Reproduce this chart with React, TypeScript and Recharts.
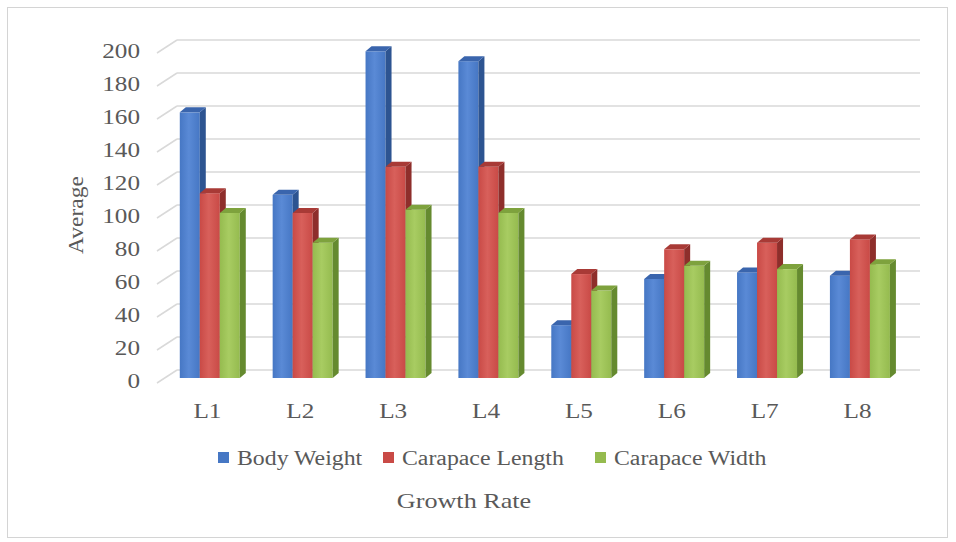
import React from "react";
import { BarChart, Bar, XAxis, YAxis, CartesianGrid } from "recharts";

// Growth rate averages per line
const categories = ["L1", "L2", "L3", "L4", "L5", "L6", "L7", "L8"];
const bodyWeight = [161, 111, 198, 192, 32, 60, 64, 62];
const carapaceLength = [112, 100, 128, 128, 63, 78, 82, 84];
const carapaceWidth = [100, 82, 102, 100, 53, 68, 66, 69];
const yTicks = [0, 20, 40, 60, 80, 100, 120, 140, 160, 180, 200];

const data = categories.map((name, i) => ({
  name,
  bodyWeight: bodyWeight[i],
  carapaceLength: carapaceLength[i],
  carapaceWidth: carapaceWidth[i],
}));

const series = [
  { key: "bodyWeight", name: "Body Weight", front: "#4677c4", light: "#5a8ad6", side: "#2d5491", top: "#3a65ad" },
  { key: "carapaceLength", name: "Carapace Length", front: "#c94a46", light: "#d8605b", side: "#8e2e2b", top: "#a83a36" },
  { key: "carapaceWidth", name: "Carapace Width", front: "#95bb4f", light: "#a8cc62", side: "#658a2f", top: "#7ea23d" },
];

const TEXT = "#595959";
const FONT = "'Liberation Serif', 'Times New Roman', serif";
const GRID = "#d9d9d9";

// depth of the bars and of the back wall
const BAR_DX = 6;
const BAR_DY = 5;
const WALL_X0 = 157;
const WALL_X1 = 177;
const WALL_RIGHT = 920;

const Bar3D = (props: any) => {
  const { x, y, width: w, height: h, s } = props;
  if (!h || h <= 0) return null;
  return (
    <g>
      <rect x={x} y={y} width={w} height={h} fill={`url(#grad-${s.key})`} />
      <polygon
        points={`${x + w},${y} ${x + w + BAR_DX},${y - BAR_DY} ${x + w + BAR_DX},${y + h - BAR_DY} ${x + w},${y + h}`}
        fill={s.side}
      />
      <polygon
        points={`${x},${y} ${x + BAR_DX},${y - BAR_DY} ${x + w + BAR_DX},${y - BAR_DY} ${x + w},${y}`}
        fill={s.top}
      />
    </g>
  );
};

// back wall lines with the short slanted piece on the side wall
const GridLine = (props: any) => {
  const { y1 } = props;
  return (
    <g>
      <line x1={WALL_X0} y1={y1 + 5} x2={WALL_X1} y2={y1 - 8} stroke={GRID} strokeWidth={1.5} />
      <line x1={WALL_X1} y1={y1 - 8} x2={WALL_RIGHT} y2={y1 - 8} stroke={GRID} strokeWidth={1.5} />
    </g>
  );
};

const YTick = (props: any) => {
  const { y, payload } = props;
  return (
    <text
      transform={`translate(140,${y + 3}) scale(1.2,1)`}
      textAnchor="end"
      dominantBaseline="central"
      fontFamily={FONT}
      fontSize={21}
      fill={TEXT}
    >
      {payload.value}
    </text>
  );
};

const XTick = (props: any) => {
  const { x, payload } = props;
  return (
    <text
      transform={`translate(${x - 3},411) scale(1.2,1)`}
      textAnchor="middle"
      dominantBaseline="central"
      fontFamily={FONT}
      fontSize={21}
      fill={TEXT}
    >
      {payload.value}
    </text>
  );
};

const legendX = [218, 383, 595];

export default function App() {
  return (
    <div style={{ position: "absolute", left: 0, top: 0, width: 956, height: 542, background: "#fff" }}>
      <div
        style={{
          position: "absolute",
          left: 7,
          top: 7,
          width: 941,
          height: 531,
          border: "1px solid #d4d4d4",
          boxSizing: "border-box",
        }}
      />
      <div style={{ position: "absolute", left: 0, top: 0 }}>
        <BarChart
          width={956}
          height={542}
          data={data}
          margin={{ top: 48, right: 49, bottom: 104, left: 64 }}
          barCategoryGap="17%"
          barGap={0}
        >
          <defs>
            {series.map((s) => (
              <linearGradient key={s.key} id={`grad-${s.key}`} x1="0" y1="0" x2="1" y2="0">
                <stop offset="0%" stopColor={s.front} />
                <stop offset="45%" stopColor={s.light} />
                <stop offset="100%" stopColor={s.front} />
              </linearGradient>
            ))}
          </defs>
          <CartesianGrid vertical={false} horizontal={(p: any) => <GridLine key={p.key ?? p.index} {...p} />} />
          <XAxis
            dataKey="name"
            axisLine={false}
            tickLine={false}
            height={60}
            tick={<XTick />}
            interval={0}
          />
          <YAxis
            domain={[0, 200]}
            ticks={yTicks}
            axisLine={false}
            tickLine={false}
            width={100}
            tick={<YTick />}
          />
          {series.map((s) => (
            <Bar
              key={s.key}
              dataKey={s.key}
              name={s.name}
              fill={s.front}
              isAnimationActive={false}
              shape={(p: any) => <Bar3D {...p} s={s} />}
            />
          ))}
        </BarChart>
      </div>
      <svg
        width={956}
        height={542}
        style={{ position: "absolute", left: 0, top: 0, pointerEvents: "none" }}
      >
        <text
          transform="translate(76,215) rotate(-90) scale(1.12,1)"
          textAnchor="middle"
          dominantBaseline="central"
          fontFamily={FONT}
          fontSize={21}
          fill={TEXT}
        >
          Average
        </text>
        {series.map((s, i) => (
          <g key={s.key}>
            <rect x={legendX[i]} y={452} width={11} height={11} fill={s.front} />
            <text
              transform={`translate(${legendX[i] + 19},458) scale(1.19,1)`}
              dominantBaseline="central"
              fontFamily={FONT}
              fontSize={20}
              fill={TEXT}
            >
              {s.name}
            </text>
          </g>
        ))}
        <text
          transform="translate(464,500) scale(1.19,1)"
          textAnchor="middle"
          dominantBaseline="central"
          fontFamily={FONT}
          fontSize={22}
          fill={TEXT}
        >
          Growth Rate
        </text>
      </svg>
    </div>
  );
}
